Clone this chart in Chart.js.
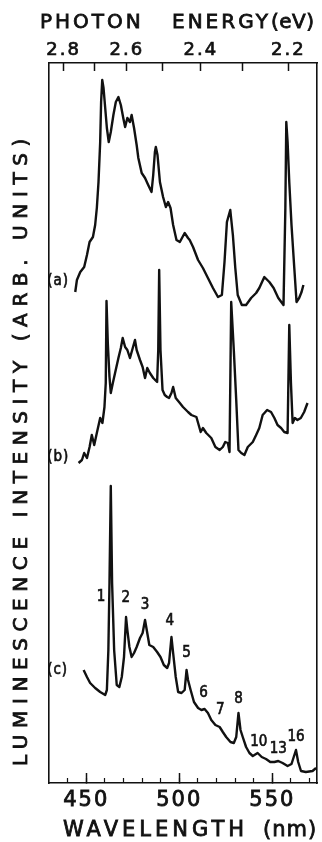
<!DOCTYPE html>
<html>
<head>
<meta charset="utf-8">
<script src="https://cdn.jsdelivr.net/npm/chart.js@4.4.1/dist/chart.umd.min.js"></script>
<style>
  html, body { margin: 0; padding: 0; background: #fff; }
  canvas { display: block; }
</style>
</head>
<body>
<canvas id="chart" width="322" height="842"></canvas>
<script>
// ---------------------------------------------------------
// data: wavelength (nm) and intensity
// (arb. units, each trace already offset on the shared axis)
// ---------------------------------------------------------
const wlA = [444.1,445.0,446.8,448.9,450.4,451.8,453.6,454.8,455.7,456.6,457.5,458.0,458.6,459.3,460.2,461.1,462.1,463.2,464.6,465.9,467.3,468.6,469.9,470.9,472.1,473.5,474.4,475.7,477.1,478.0,479.8,481.6,483.3,485.1,486.0,486.9,487.4,488.3,489.6,491.3,492.8,494.0,495.3,496.7,498.5,500.3,502.9,504.7,505.6,507.4,510.1,512.7,515.4,518.1,520.8,522.9,524.3,525.6,527.4,528.8,530.1,531.4,533.6,535.9,538.6,541.3,543.0,545.7,548.4,550.7,553.2,556.0,557.0,557.5,558.2,559.1,560.3,561.8,563.0,564.4,565.7,566.7];
const intA = [491,503,511,516,528,541,546,558,575,601,641,681,703,695,675,655,641,651,668,681,686,678,665,656,665,661,668,655,638,625,610,605,598,591,608,631,636,628,601,586,576,581,575,558,543,541,550,545,543,536,523,515,505,495,486,488,521,561,573,548,515,488,478,478,485,490,495,506,501,495,485,478,575,661,641,601,558,515,481,485,491,498];

const wlB = [445.9,447.7,448.9,450.4,451.8,453.0,454.3,455.7,457.5,458.7,459.8,460.5,460.9,461.6,462.5,463.2,464.3,465.5,467.3,468.6,469.6,470.9,472.1,473.5,475.0,476.2,477.1,478.9,480.3,481.6,482.8,484.2,486.0,488.1,488.7,489.2,489.9,491.0,492.2,493.5,494.5,495.8,496.7,498.1,500.3,502.0,504.7,506.5,509.2,511.5,512.7,514.5,517.2,519.4,521.7,523.4,524.7,526.1,527.0,527.9,529.3,530.6,531.8,533.3,535.0,536.8,539.5,541.3,543.0,544.8,547.2,549.3,551.1,552.8,554.7,556.4,558.2,559.1,560.0,560.9,562.1,563.5,565.3,567.1,568.9];
const intB = [320,323,330,325,336,348,338,350,365,360,376,400,482,440,406,390,400,410,425,435,445,436,433,425,435,443,433,423,416,405,415,410,405,401,433,513,433,393,388,386,385,390,396,385,380,376,371,368,366,351,355,350,345,336,333,336,341,340,331,481,433,383,333,330,328,336,341,348,355,368,373,371,365,358,355,351,350,458,400,360,365,363,365,371,380];

const wlC = [448.6,450.4,452.1,454.8,457.5,460.2,461.1,461.9,462.5,463.2,463.9,465.0,466.4,467.8,469.1,470.3,471.4,472.1,473.2,474.4,475.7,477.1,478.9,480.3,481.6,482.8,483.9,486.0,488.1,489.9,491.7,493.5,494.5,495.8,496.7,498.1,499.4,501.2,502.9,503.9,504.7,506.1,507.9,510.1,511.9,513.6,515.4,517.2,519.4,521.7,523.4,525.2,527.5,529.3,530.6,531.8,532.9,534.1,535.9,537.7,539.5,542.1,544.3,546.6,548.9,551.1,553.2,555.5,558.2,560.3,562.7,563.9,565.4,568.0,571.6,573.5];
const intC = [113,106,100,95,91,88,93,133,200,297,200,133,98,96,106,126,166,153,136,126,130,136,145,150,163,150,138,136,131,126,118,115,120,146,130,106,91,90,93,113,103,93,81,75,73,74,70,63,58,56,51,46,41,40,46,70,53,46,36,30,27,30,26,24,21,21,22,20,17,19,33,21,12,11,12,15];

// axes
const WL_MIN = 430, WL_MAX = 574;
const INT_MIN = 0, INT_MAX = 720;
const WL_MAJOR = [450, 500, 550];
const WL_MINOR = [440, 450, 460, 470, 480, 490, 500, 510, 520, 530, 540, 550, 560, 570];
const EV_TICKS = [2.8, 2.7, 2.6, 2.5, 2.4, 2.3, 2.2];
const EV_LABELED = [2.8, 2.6, 2.4, 2.2];
const HC = 1239.84;     // eV*nm
const EV_SHIFT = 5;     // top scale sits a few nm off the bottom one in the original

// annotations
const TRACE_NAMES = ['(a)', '(b)', '(c)'];
const TRACE_NAME_INT = [502, 326, 113];
const PEAK_NUMBERS = ['1', '2', '3', '4', '5', '6', '7', '8', '10', '13', '16'];
const PEAK_LABEL_WL = [457.9, 471.2, 481.6, 494.9, 503.9, 513.1, 522.0, 531.8, 542.7, 553.2, 562.7];
const PEAK_LABEL_INT = [186, 185, 178, 162, 130, 90, 73, 84, 41, 34, 46];

const INK = '#111';
const FONT = '"DejaVu Sans", sans-serif';
const NARROW = '"DejaVu Sans Condensed", "DejaVu Sans", sans-serif';

function pairs(xs, ys) {
    return xs.map((x, i) => ({ x: x, y: ys[i] }));
}

function trace(xs, ys) {
    return {
        data: pairs(xs, ys),
        borderColor: INK,
        borderWidth: 2.4,
        pointRadius: 0,
        tension: 0,
        borderJoinStyle: 'round',
        xAxisID: 'x',
        yAxisID: 'y'
    };
}

// filled + thin stroke, the printed lettering is heavier than the regular face
function inkText(ctx, t, x, y) {
    ctx.fillText(t, x, y);
    ctx.strokeText(t, x, y);
}

// text that is not part of an axis, plus the spaced-out titles
const labelsPlugin = {
    id: 'labels',
    beforeDraw(chart) {
        chart.ctx.letterSpacing = '2px';
    },
    afterDraw(chart) {
        const ctx = chart.ctx;
        const xs = chart.scales.x, ys = chart.scales.y;
        ctx.save();
        ctx.fillStyle = INK;
        ctx.strokeStyle = INK;
        ctx.lineWidth = 0.6;
        ctx.textBaseline = 'middle';

        ctx.font = '15px ' + NARROW;
        ctx.letterSpacing = '1px';
        ctx.textAlign = 'left';
        TRACE_NAMES.forEach((t, i) => {
            inkText(ctx, t, xs.getPixelForValue(429), ys.getPixelForValue(TRACE_NAME_INT[i]));
        });

        ctx.letterSpacing = '0px';
        ctx.textAlign = 'center';
        PEAK_NUMBERS.forEach((t, i) => {
            inkText(ctx, t, xs.getPixelForValue(PEAK_LABEL_WL[i]), ys.getPixelForValue(PEAK_LABEL_INT[i]));
        });

        ctx.lineWidth = 0.8;
        ctx.textAlign = 'left';
        ctx.font = '20px ' + FONT;
        ctx.letterSpacing = '3px';
        inkText(ctx, 'PHOTON', 40, 23);
        inkText(ctx, 'ENERGY', 172, 23);
        ctx.letterSpacing = '0.5px';
        inkText(ctx, '(eV)', 271, 23);

        ctx.font = '21px ' + FONT;
        ctx.letterSpacing = '4px';
        inkText(ctx, 'WAVELENGTH', 63, 831);
        ctx.letterSpacing = '1px';
        inkText(ctx, '(nm)', 263, 831);

        ctx.translate(22, 449);
        ctx.rotate(-Math.PI / 2);
        ctx.textAlign = 'center';
        ctx.font = '20px ' + FONT;
        ctx.letterSpacing = '6.6px';
        inkText(ctx, 'LUMINESCENCE INTENSITY (ARB. UNITS)', 0, 0);
        ctx.restore();
    }
};

const axisLine = { display: true, color: INK, width: 1.6 };

new Chart(document.getElementById('chart'), {
    type: 'line',
    data: {
        datasets: [trace(wlA, intA), trace(wlB, intB), trace(wlC, intC)]
    },
    options: {
        responsive: false,
        animation: false,
        layout: { padding: 0 },
        plugins: { legend: { display: false }, tooltip: { enabled: false } },
        scales: {
            x: {
                type: 'linear', position: 'bottom', weight: 1,
                min: WL_MIN, max: WL_MAX,
                afterBuildTicks: s => { s.ticks = WL_MAJOR.map(v => ({ value: v })); },
                afterFit: s => { s.height = 59; },
                border: axisLine,
                grid: { drawOnChartArea: false, drawTicks: true, tickLength: -10, tickColor: INK, tickWidth: 1.5 },
                ticks: {
                    color: INK, font: { family: FONT, size: 21 }, padding: 15,
                    textStrokeColor: INK, textStrokeWidth: 0.8,
                    maxRotation: 0, minRotation: 0, autoSkip: false,
                    callback: v => String(v)
                }
            },
            xm: {
                type: 'linear', position: 'bottom', weight: 0,
                min: WL_MIN, max: WL_MAX,
                afterBuildTicks: s => { s.ticks = WL_MINOR.map(v => ({ value: v })); },
                afterFit: s => { s.height = 0; },
                border: { display: false },
                grid: { drawOnChartArea: false, drawTicks: true, tickLength: -5, tickColor: INK, tickWidth: 1.2 },
                ticks: { display: false }
            },
            x2: {
                type: 'linear', position: 'top',
                min: WL_MIN + EV_SHIFT, max: WL_MAX + EV_SHIFT,
                afterBuildTicks: s => { s.ticks = EV_TICKS.map(e => ({ value: HC / e })); },
                afterFit: s => { s.height = 63; },
                border: axisLine,
                grid: { drawOnChartArea: false, drawTicks: true, tickLength: -8, tickColor: INK, tickWidth: 1.5 },
                ticks: {
                    color: INK, font: { family: FONT, size: 18 }, padding: 10,
                    textStrokeColor: INK, textStrokeWidth: 0.7,
                    maxRotation: 0, minRotation: 0, autoSkip: false,
                    callback: (v, i) => EV_LABELED.includes(EV_TICKS[i]) ? EV_TICKS[i].toFixed(1) : ''
                }
            },
            y: {
                type: 'linear', position: 'left',
                min: INT_MIN, max: INT_MAX,
                afterFit: s => { s.width = 49; },
                border: axisLine,
                grid: { drawOnChartArea: false, drawTicks: false },
                ticks: { display: false }
            },
            yr: {
                type: 'linear', position: 'right',
                min: INT_MIN, max: INT_MAX,
                afterFit: s => { s.width = 5; },
                border: axisLine,
                grid: { drawOnChartArea: false, drawTicks: false },
                ticks: { display: false }
            }
        }
    },
    plugins: [labelsPlugin]
});
</script>
</body>
</html>
